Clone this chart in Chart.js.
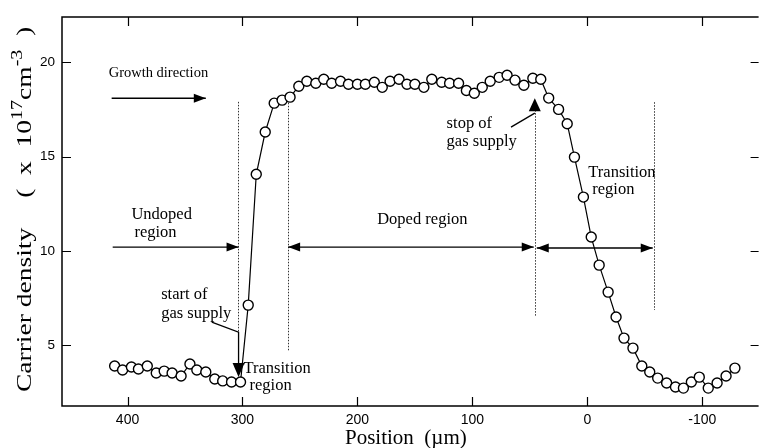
<!DOCTYPE html>
<html>
<head>
<meta charset="utf-8">
<script src="https://cdn.jsdelivr.net/npm/chart.js@4.4.0/dist/chart.umd.min.js"></script>
<style>
  html, body { margin: 0; padding: 0; background: #fff; }
  #wrap { width: 765px; height: 448px; position: relative; }
</style>
</head>
<body>
<div id="wrap"><canvas id="chart"></canvas></div>
<script>
// positions in um (growth goes right to left), carrier density in 1e17 cm^-3
const positions = [
  411.2, 404.3, 396.6, 390.5, 382.8, 375.0, 368.1, 361.2, 353.4, 345.7, 339.7, 331.9, 324.1, 317.2, 309.5, 301.7,
  295.0, 288.0, 280.2, 272.4, 265.5, 258.6,
  251.0, 244.0, 236.2, 229.3, 222.4, 214.7, 207.8, 200.0, 193.1, 185.3, 178.4, 171.6, 163.8, 156.9, 150.0,
  142.2, 135.3, 126.7, 119.8, 112.0, 105.2, 98.3, 91.4, 84.5, 76.7, 69.8, 62.9, 55.2, 47.4, 40.5,
  33.6, 25.0, 17.5, 11.2, 3.4, -3.4, -10.3, -18.1, -25.0, -31.9, -39.7, -47.4, -54.3, -61.2, -69.0,
  -76.7, -83.6, -90.5, -97.4, -105.2, -112.9, -120.7, -128.4
];
const densities = [
  3.89, 3.68, 3.84, 3.73, 3.89, 3.52, 3.62, 3.52, 3.36, 4.00, 3.68, 3.57, 3.20, 3.10, 3.04, 3.04,
  7.12, 14.06, 16.30, 17.83, 17.99, 18.15,
  18.73, 18.99, 18.89, 19.10, 18.89, 18.99, 18.83, 18.83, 18.83, 18.94, 18.67, 18.99, 19.10, 18.83, 18.83,
  18.67, 19.10, 18.94, 18.89, 18.89, 18.50, 18.36, 18.67, 18.99, 19.20, 19.31, 19.05, 18.78, 19.15, 19.10,
  18.10, 17.50, 16.74, 14.97, 12.85, 10.73, 9.24, 7.81, 6.49, 5.37, 4.84, 3.89, 3.57, 3.25, 2.99,
  2.78, 2.72, 3.04, 3.30, 2.72, 2.99, 3.36, 3.78
];
const xTicks = [400, 300, 200, 100, 0, -100];
const yTicks = [5, 10, 15, 20];

const xTitle = 'Position  (\u00b5m)';
const yTitleMain = 'Carrier density';

// annotation texts: [text, position, density (baseline), font px]
const notes = [
  ['Growth direction', 416.4, 19.2, 14.5],
  ['Undoped', 396.6, 11.68, 16.5],
  ['region', 394.0, 10.73, 16.5],
  ['Doped region', 182.8, 11.41, 16.5],
  ['start of', 370.7, 7.44, 16.5],
  ['gas supply', 370.7, 6.43, 16.5],
  ['Transition', 299.1, 3.52, 16.5],
  ['region', 293.9, 2.62, 16.5],
  ['stop of', 122.4, 16.5, 16.5],
  ['gas supply', 122.4, 15.55, 16.5],
  ['Transition', -0.9, 13.91, 16.5],
  ['region', -4.3, 13.0, 16.5]
];
// dotted boundaries: [position, top density, bottom density]
const boundaries = [
  [303.5, 17.9, 5.7],
  [260.3, 17.85, 4.65],
  [45.7, 17.46, 6.5],
  [-57.8, 17.88, 6.86]
];

const serif = '"Liberation Serif", "Times New Roman", serif';

function arrowHead(ctx, x, y, ang) {
  const len = 12, half = 4.5;
  ctx.save();
  ctx.translate(x, y);
  ctx.rotate(ang);
  ctx.beginPath();
  ctx.moveTo(0, 0);
  ctx.lineTo(-len, -half);
  ctx.lineTo(-len, half);
  ctx.closePath();
  ctx.fill();
  ctx.restore();
}

function arrow(ctx, x1, y1, x2, y2, both) {
  const ang = Math.atan2(y2 - y1, x2 - x1);
  ctx.beginPath();
  ctx.moveTo(x1, y1);
  ctx.lineTo(x2, y2);
  ctx.stroke();
  arrowHead(ctx, x2, y2, ang);
  if (both) arrowHead(ctx, x1, y1, ang + Math.PI);
}

const decorations = {
  id: 'decorations',
  afterDatasetsDraw(chart) {
    const { ctx, chartArea: a, scales } = chart;
    const X = v => scales.x.getPixelForValue(v);
    const Y = v => scales.y.getPixelForValue(v);
    ctx.save();
    ctx.strokeStyle = '#000';
    ctx.fillStyle = '#000';

    // frame (left, top, bottom) and inward ticks
    ctx.lineWidth = 1.5;
    ctx.beginPath();
    ctx.moveTo(a.right, a.top); ctx.lineTo(a.left, a.top);
    ctx.lineTo(a.left, a.bottom); ctx.lineTo(a.right, a.bottom);
    ctx.stroke();
    ctx.lineWidth = 1.2;
    ctx.beginPath();
    xTicks.forEach(v => {
      const px = Math.round(X(v)) + 0.5;
      ctx.moveTo(px, a.bottom); ctx.lineTo(px, a.bottom - 9);
      ctx.moveTo(px, a.top); ctx.lineTo(px, a.top + 9);
    });
    yTicks.forEach(v => {
      const py = Math.round(Y(v)) + 0.5;
      ctx.moveTo(a.left, py); ctx.lineTo(a.left + 9, py);
      ctx.moveTo(a.right, py); ctx.lineTo(a.right - 8, py);
    });
    ctx.stroke();

    // dotted boundaries
    ctx.save();
    ctx.lineWidth = 1;
    ctx.strokeStyle = '#333';
    ctx.setLineDash([1.5, 1.5]);
    boundaries.forEach(b => {
      const px = Math.round(X(b[0])) + 0.5;
      ctx.beginPath();
      ctx.moveTo(px, Y(b[1]));
      ctx.lineTo(px, Y(b[2]));
      ctx.stroke();
    });
    ctx.restore();

    // region arrows
    ctx.lineWidth = 1.3;
    arrow(ctx, X(413.8), Y(18.09), X(331.9), Y(18.09), false);
    arrow(ctx, X(412.9), Y(10.2), X(303.4), Y(10.2), false);
    arrow(ctx, X(260.3), Y(10.2), X(46.6), Y(10.2), true);
    arrow(ctx, X(44.0), Y(10.15), X(-56.9), Y(10.15), true);

    // start of gas supply pointer
    ctx.beginPath();
    ctx.moveTo(X(326.7), Y(6.22));
    ctx.lineTo(X(303.4), Y(5.69));
    ctx.lineTo(X(303.4), Y(3.6));
    ctx.stroke();
    ctx.save();
    ctx.translate(X(303.4), Y(3.31));
    ctx.beginPath();
    ctx.moveTo(0, 0); ctx.lineTo(-6, -14); ctx.lineTo(6, -14); ctx.closePath();
    ctx.fill();
    ctx.restore();

    // stop of gas supply pointer
    ctx.beginPath();
    ctx.moveTo(X(66.4), Y(16.56));
    ctx.lineTo(X(45.7), Y(17.3));
    ctx.stroke();
    ctx.save();
    ctx.translate(X(45.7), Y(18.09));
    ctx.beginPath();
    ctx.moveTo(0, 0); ctx.lineTo(-6, 13); ctx.lineTo(6, 13); ctx.closePath();
    ctx.fill();
    ctx.restore();

    // annotation texts
    ctx.textAlign = 'left';
    ctx.textBaseline = 'alphabetic';
    notes.forEach(n => {
      ctx.font = n[3] + 'px ' + serif;
      ctx.fillText(n[0], X(n[1]), Y(n[2]));
    });

    // x title
    ctx.font = '21px ' + serif;
    ctx.fillText(xTitle, 345, 444);

    // y title, rotated, with superscripts
    ctx.save();
    ctx.translate(31, 392);
    ctx.rotate(-Math.PI / 2);
    ctx.scale(1.25, 1);
    let cx = 0;
    const put = (t, size, dy) => {
      ctx.font = size + 'px ' + serif;
      ctx.fillText(t, cx, dy);
      cx += ctx.measureText(t).width;
    };
    put(yTitleMain, 22, 0);
    cx += 24;
    put('(  x  10', 22, 0);
    put('17', 16, -9);
    put('cm', 22, 0);
    put('-3', 16, -9);
    put('  )', 22, 0);
    ctx.restore();

    ctx.restore();
  }
};

new Chart(document.getElementById('chart'), {
  type: 'scatter',
  data: {
    datasets: [{
      data: positions.map((p, i) => ({ x: p, y: densities[i] })),
      showLine: true,
      borderColor: '#000',
      borderWidth: 1.2,
      pointRadius: 5,
      pointBorderWidth: 1.4,
      pointBackgroundColor: '#fff',
      pointBorderColor: '#000',
      tension: 0
    }]
  },
  options: {
    responsive: true,
    maintainAspectRatio: false,
    animation: false,
    layout: { padding: { top: 17, left: 0, right: 0, bottom: 0 } },
    plugins: { legend: { display: false }, tooltip: { enabled: false } },
    scales: {
      x: {
        type: 'linear',
        reverse: true,
        min: -149,
        max: 457,
        afterBuildTicks: s => { s.ticks = xTicks.map(v => ({ value: v })); },
        afterFit: s => { s.height = 42; },
        grid: { display: false, drawTicks: false },
        border: { display: false },
        ticks: {
          padding: 6,
          color: '#000',
          font: { family: '"Liberation Sans", Arial, sans-serif', size: 14 },
          callback: v => String(v)
        }
      },
      y: {
        type: 'linear',
        min: 1.77,
        max: 22.4,
        afterBuildTicks: s => { s.ticks = yTicks.map(v => ({ value: v })); },
        afterFit: s => { s.width = 62; },
        grid: { display: false, drawTicks: false },
        border: { display: false },
        ticks: {
          padding: 7,
          color: '#000',
          font: { family: '"Liberation Sans", Arial, sans-serif', size: 13.5 },
          callback: v => String(v)
        }
      }
    }
  },
  plugins: [decorations]
});
</script>
</body>
</html>
